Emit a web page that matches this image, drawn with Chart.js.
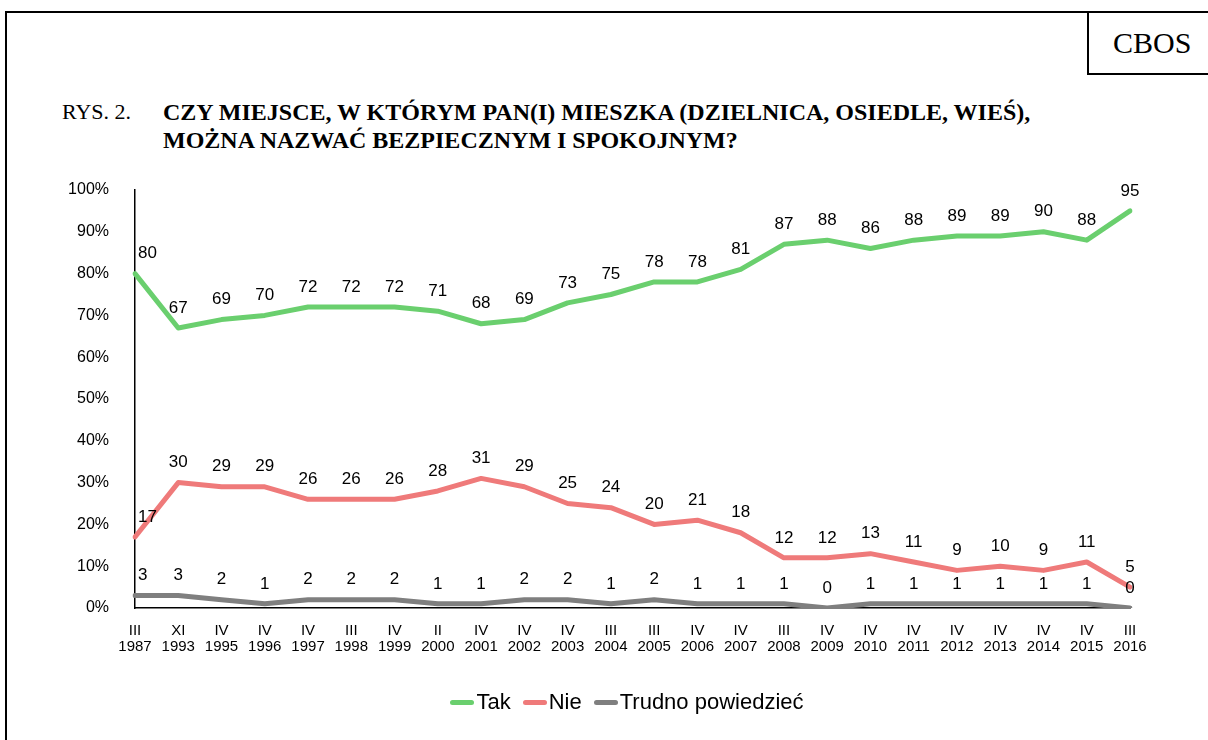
<!DOCTYPE html>
<html lang="pl">
<head>
<meta charset="utf-8">
<title>CBOS - Rys. 2</title>
<script src="https://cdn.jsdelivr.net/npm/chart.js@4/dist/chart.umd.min.js"></script>
<style>
  html, body { margin: 0; padding: 0; background: #fff; }
  #page { position: relative; width: 1208px; height: 740px; overflow: hidden; }
  #frame { position: absolute; left: 5px; top: 11px; right: -4px; bottom: -4px;
           border-left: 2px solid #000; border-top: 2px solid #000; }
  #logo { position: absolute; left: 1087px; top: 11px; width: 130px; height: 64px;
          border-left: 2px solid #000; border-bottom: 2px solid #000;
          font: 30px "Liberation Serif", "Times New Roman", serif; line-height: 64px;
          padding-left: 24px; box-sizing: border-box; }
  .rys { position: absolute; left: 62px; top: 98px; font: 22px "Liberation Serif", serif; line-height: 28px; }
  .ttl { position: absolute; left: 163px; top: 98px; font: bold 24px "Liberation Serif", serif;
         line-height: 28px; white-space: nowrap; }
  #chart { position: absolute; left: 0; top: 0; }
  #legend { position: absolute; left: 0; width: 1254px; top: 689px; display: flex;
            justify-content: center; font: 22px "Liberation Sans", Arial, sans-serif; }
  #legend span.item { display: flex; align-items: center; margin: 0 6px; }
  #legend span.bar { display: inline-block; width: 24px; height: 5px; border-radius: 3px;
                     margin-right: 2px; }
</style>
</head>
<body>
<div id="page">
  <div id="frame"></div>
  <div id="logo">CBOS</div>
  <div class="rys">RYS. 2.</div>
  <div class="ttl">CZY MIEJSCE, W KTÓRYM PAN(I) MIESZKA (DZIELNICA, OSIEDLE, WIEŚ),<br>MOŻNA NAZWAĆ BEZPIECZNYM I SPOKOJNYM?</div>
  <canvas id="chart" width="1208" height="740"></canvas>
  <div id="legend"></div>
</div>
<script>
// Terminy badań (miesiąc, rok)
const months = ['III', 'XI', 'IV', 'IV', 'IV', 'III', 'IV', 'II', 'IV', 'IV', 'IV', 'III',
                'III', 'IV', 'IV', 'III', 'IV', 'IV', 'IV', 'IV', 'IV', 'IV', 'IV', 'III'];
const years = ['1987', '1993', '1995', '1996', '1997', '1998', '1999', '2000', '2001', '2002', '2003', '2004',
               '2005', '2006', '2007', '2008', '2009', '2010', '2011', '2012', '2013', '2014', '2015', '2016'];

const seriesNames = ['Tak', 'Nie', 'Trudno powiedzieć'];
const tak = [80, 67, 69, 70, 72, 72, 72, 71, 68, 69, 73, 75, 78, 78, 81, 87, 88, 86, 88, 89, 89, 90, 88, 95];
const nie = [17, 30, 29, 29, 26, 26, 26, 28, 31, 29, 25, 24, 20, 21, 18, 12, 12, 13, 11, 9, 10, 9, 11, 5];
const trudno = [3, 3, 2, 1, 2, 2, 2, 1, 1, 2, 2, 1, 2, 1, 1, 1, 0, 1, 1, 1, 1, 1, 1, 0];
const yTicks = [0, 10, 20, 30, 40, 50, 60, 70, 80, 90, 100];

const colors = ['#6acf6e', '#ef7a7a', '#7f7f7f'];
const labels = months.map((m, i) => [m, years[i]]);

// etykiety wartości nad punktami
const valueLabels = {
  id: 'valueLabels',
  afterDatasetsDraw(chart) {
    const ctx = chart.ctx;
    ctx.save();
    ctx.font = '17px "Liberation Sans", Arial, sans-serif';
    ctx.fillStyle = '#000';
    ctx.textBaseline = 'middle';
    chart.data.datasets.forEach((ds, di) => {
      chart.getDatasetMeta(di).data.forEach((pt, i) => {
        let x = pt.x, y = pt.y - 20;
        ctx.textAlign = 'center';
        if (i === 0) { x += 3; ctx.textAlign = 'left'; }
        ctx.fillText(String(ds.data[i]), x, y);
      });
    });
    ctx.restore();
  }
};

const datasets = [tak, nie, trudno].map((d, i) => ({
  label: seriesNames[i],
  data: d,
  borderColor: colors[i],
  backgroundColor: colors[i],
  borderWidth: 5,
  pointRadius: 0,
  tension: 0,
  borderCapStyle: 'round',
  borderJoinStyle: 'round'
}));

new Chart(document.getElementById('chart'), {
  type: 'line',
  data: { labels: labels, datasets: datasets },
  plugins: [valueLabels],
  options: {
    responsive: false,
    animation: false,
    layout: { padding: { left: 0, right: 78, top: 190, bottom: 77 } },
    plugins: { legend: { display: false }, tooltip: { enabled: false } },
    scales: {
      x: {
        offset: false,
        grid: { display: false, drawTicks: false },
        border: { display: true, color: '#000', width: 1.5 },
        afterFit: s => { s.height = 55; },
        ticks: {
          autoSkip: false, maxRotation: 0, padding: 15, color: '#000',
          font: { family: '"Liberation Sans", Arial, sans-serif', size: 15, lineHeight: 1.07 }
        }
      },
      y: {
        min: 0, max: 100,
        grid: { display: false, drawTicks: false },
        border: { display: true, color: '#000', width: 1.5 },
        afterFit: s => { s.width = 135; },
        afterBuildTicks: s => { s.ticks = yTicks.map(v => ({ value: v })); },
        ticks: {
          padding: 26, color: '#000',
          font: { family: '"Liberation Sans", Arial, sans-serif', size: 16 },
          callback: v => v + '%'
        }
      }
    }
  }
});

// legenda
const legend = document.getElementById('legend');
seriesNames.forEach((name, i) => {
  const item = document.createElement('span');
  item.className = 'item';
  const bar = document.createElement('span');
  bar.className = 'bar';
  bar.style.background = colors[i];
  item.appendChild(bar);
  item.appendChild(document.createTextNode(name));
  legend.appendChild(item);
});
</script>
</body>
</html>
